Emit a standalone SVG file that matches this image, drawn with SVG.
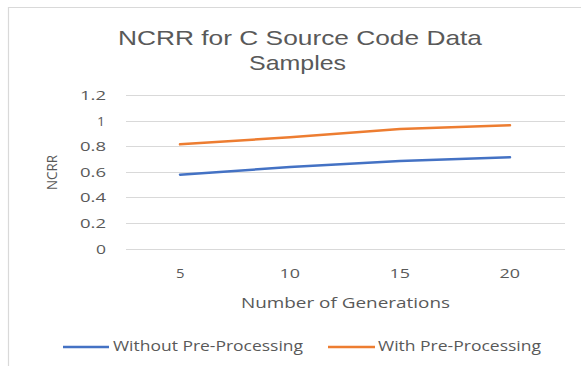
<svg xmlns="http://www.w3.org/2000/svg" width="581" height="366" viewBox="0 0 581 366">
<style>
.t{font-family:"Open Sans","Liberation Sans",sans-serif;fill:#595959}
.tt{font-family:"Liberation Sans",Arial,sans-serif;fill:#595959}
.grid{stroke:#D9D9D9;stroke-width:1}
.ser{fill:none;stroke-width:2.5;stroke-linecap:round;stroke-linejoin:round}
</style>
<rect width="581" height="366" fill="#fff"/>
<path d="M8.5 366 V7.5 H581" fill="none" stroke="#D9D9D9" stroke-width="1.2"/>
<g id="title" class="tt" font-size="21">
<text x="118" y="45" textLength="364" lengthAdjust="spacingAndGlyphs">NCRR for C Source Code Data</text>
<text x="249" y="70" textLength="97" lengthAdjust="spacingAndGlyphs">Samples</text>
</g>
<g id="gridlines">
<line class="grid" x1="126" y1="95.5" x2="565" y2="95.5"/>
<line class="grid" x1="126" y1="121.5" x2="565" y2="121.5"/>
<line class="grid" x1="126" y1="146.5" x2="565" y2="146.5"/>
<line class="grid" x1="126" y1="172.5" x2="565" y2="172.5"/>
<line class="grid" x1="126" y1="197.5" x2="565" y2="197.5"/>
<line class="grid" x1="126" y1="223.5" x2="565" y2="223.5"/>
<line class="grid" x1="126" y1="249.5" x2="565" y2="249.5"/>
</g>
<g id="y-axis" class="t" font-size="12.5">
<text x="80" y="100" textLength="26" lengthAdjust="spacingAndGlyphs">1.2</text>
<text x="97" y="126" textLength="8" lengthAdjust="spacingAndGlyphs">1</text>
<text x="80" y="151" textLength="26" lengthAdjust="spacingAndGlyphs">0.8</text>
<text x="80" y="177" textLength="26" lengthAdjust="spacingAndGlyphs">0.6</text>
<text x="80" y="202" textLength="26" lengthAdjust="spacingAndGlyphs">0.4</text>
<text x="80" y="228" textLength="26" lengthAdjust="spacingAndGlyphs">0.2</text>
<text x="96" y="254" textLength="10" lengthAdjust="spacingAndGlyphs">0</text>
<text x="0" y="0" font-size="14" transform="translate(57 190) rotate(-90)" textLength="35" lengthAdjust="spacingAndGlyphs">NCRR</text>
</g>
<g id="x-axis" class="t" font-size="13">
<text x="176" y="278" textLength="8.5" lengthAdjust="spacingAndGlyphs">5</text>
<text x="279.5" y="278" textLength="20.5" lengthAdjust="spacingAndGlyphs">10</text>
<text x="389.5" y="278" textLength="20.5" lengthAdjust="spacingAndGlyphs">15</text>
<text x="499.5" y="278" textLength="20.5" lengthAdjust="spacingAndGlyphs">20</text>
<text x="241" y="308" font-size="15" textLength="209" lengthAdjust="spacingAndGlyphs">Number of Generations</text>
</g>
<g id="connectors">
<polyline id="without" class="ser" stroke="#4472C4" points="180,174.7 290,167 400,161 510,157.3"/>
<polyline id="with" class="ser" stroke="#ED7D31" points="180,144.3 290,137.3 400,129 510,125.3"/>
</g>
<g id="legend" class="t" font-size="14">
<line x1="63" y1="347" x2="109" y2="347" stroke="#4472C4" stroke-width="2.5"/>
<text x="113" y="351" textLength="190" lengthAdjust="spacingAndGlyphs">Without Pre-Processing</text>
<line x1="328" y1="347" x2="375" y2="347" stroke="#ED7D31" stroke-width="2.5"/>
<text x="378" y="351" textLength="163" lengthAdjust="spacingAndGlyphs">With Pre-Processing</text>
</g>
</svg>
